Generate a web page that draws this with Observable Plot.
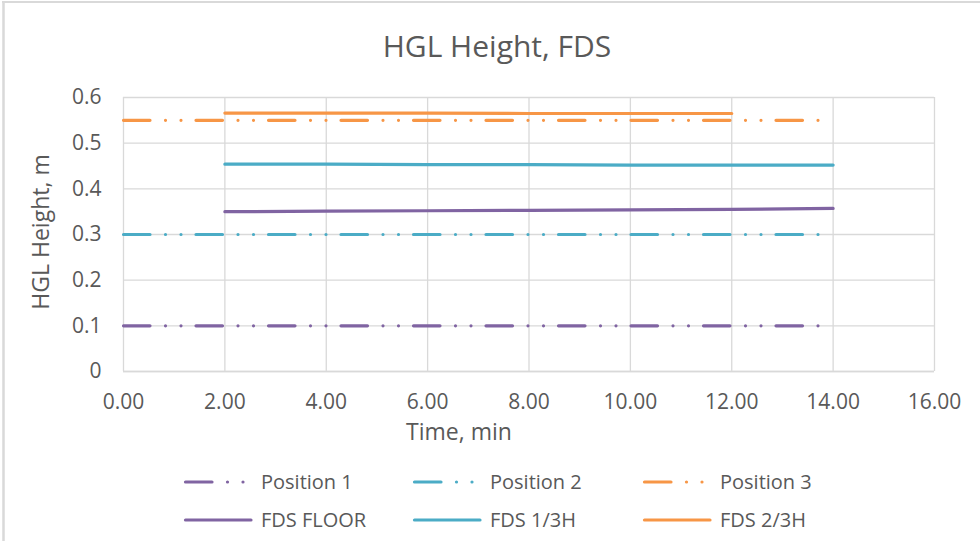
<!DOCTYPE html>
<html>
<head>
<meta charset="utf-8">
<script src="https://cdn.jsdelivr.net/npm/d3@7"></script>
<script src="https://cdn.jsdelivr.net/npm/@observablehq/plot@0.6"></script>
<style>
  html, body { margin: 0; padding: 0; background: #ffffff; }
  #chart { width: 980px; height: 541px; }
</style>
</head>
<body>
<div id="chart"></div>
<script>
// Reference positions (constant heights over the run)
const positionTimes = [0, 14];
const position1 = [0.1, 0.1];
const position2 = [0.3, 0.3];
const position3 = [0.55, 0.55];

// FDS hot gas layer heights, sampled every 2 minutes
const fdsTimes = [2, 4, 6, 8, 10, 12, 14];
const fdsFloor = [0.350, 0.351, 0.352, 0.353, 0.354, 0.355, 0.357];
const fdsOneThird = [0.454, 0.454, 0.453, 0.453, 0.452, 0.452, 0.452];
const fdsTwoThirdTimes = [2, 4, 6, 8, 10, 12];
const fdsTwoThird = [0.566, 0.566, 0.566, 0.565, 0.565, 0.565];

// Axis ticks
const xTicks = [0, 2, 4, 6, 8, 10, 12, 14, 16];
const yTicks = [0, 0.1, 0.2, 0.3, 0.4, 0.5, 0.6];

// Series in drawing order
const seriesNames = ["Position 1", "Position 2", "Position 3", "FDS FLOOR", "FDS 1/3H", "FDS 2/3H"];
const seriesColors = ["#8064A2", "#4BACC6", "#F79646", "#8064A2", "#4BACC6", "#F79646"];
const seriesDashed = [true, true, true, false, false, false];

const dashDot = "26.5,15.5,0,15.5,0,15";
const textColor = "#595959";
const gridColor = "#D9D9D9";

const toRows = (xs, ys, name) => xs.map((x, i) => ({time: x, height: ys[i], series: name}));
const seriesData = [
  toRows(positionTimes, position1, seriesNames[0]),
  toRows(positionTimes, position2, seriesNames[1]),
  toRows(positionTimes, position3, seriesNames[2]),
  toRows(fdsTimes, fdsFloor, seriesNames[3]),
  toRows(fdsTimes, fdsOneThird, seriesNames[4]),
  toRows(fdsTwoThirdTimes, fdsTwoThird, seriesNames[5])
];

const lineMarks = seriesData.map((rows, i) => Plot.line(rows, {
  x: "time",
  y: "height",
  stroke: seriesColors[i],
  strokeWidth: 3.2,
  strokeLinecap: "round",
  strokeDasharray: seriesDashed[i] ? dashDot : null
}));

const chart = Plot.plot({
  width: 980,
  height: 541,
  marginTop: 97,
  marginRight: 46,
  marginBottom: 170,
  marginLeft: 123,
  style: {fontFamily: "'Open Sans', sans-serif", fontSize: "21px", color: textColor, background: "#ffffff", overflow: "visible"},
  x: {domain: [0, 16], ticks: xTicks, label: null},
  y: {domain: [0, 0.6], ticks: yTicks, label: null},
  marks: [
    Plot.gridX(xTicks, {stroke: gridColor, strokeOpacity: 1, strokeWidth: 1.3}),
    Plot.gridY(yTicks, {stroke: gridColor, strokeOpacity: 1, strokeWidth: 1.3}),
    Plot.ruleY([0], {stroke: gridColor, strokeWidth: 1.5}),
    Plot.axisX(xTicks, {tickSize: 0, tickPadding: 23, tickFormat: d3.format(".2f"), label: null}),
    Plot.axisY(yTicks, {tickSize: 0, tickPadding: 22, tickFormat: d => d === 0 ? "0" : d3.format(".1f")(d), label: null}),
    ...lineMarks
  ]
});

document.getElementById("chart").appendChild(chart);

// Chart border, titles and legend drawn into the same SVG
const svg = d3.select(chart);
const deco = svg.append("g")
  .attr("font-family", "'Open Sans', sans-serif")
  .attr("fill", textColor)
  .attr("text-anchor", "start");

deco.append("line").attr("x1", 2).attr("x2", 980).attr("y1", 2).attr("y2", 2)
  .attr("stroke", gridColor).attr("stroke-width", 2);
deco.append("line").attr("x1", 3.5).attr("x2", 3.5).attr("y1", 1).attr("y2", 541)
  .attr("stroke", gridColor).attr("stroke-width", 2.5);

deco.append("text").attr("x", 497).attr("y", 57).attr("text-anchor", "middle")
  .attr("font-size", 30).text("HGL Height, FDS");

deco.append("text").attr("x", 459).attr("y", 440).attr("text-anchor", "middle")
  .attr("font-size", 23).text("Time, min");

deco.append("text").attr("transform", "translate(49,232) rotate(-90)").attr("text-anchor", "middle")
  .attr("font-size", 23).text("HGL Height, m");

// Legend: three columns, dashed series on the first row, FDS on the second
const legendCols = [184, 413, 643];
const legendRows = [482, 520];
const legend = deco.append("g");
seriesNames.forEach((name, i) => {
  const col = i % 3, row = Math.floor(i / 3);
  const x0 = legendCols[col], y0 = legendRows[row];
  legend.append("line")
    .attr("x1", x0 + 1.5).attr("x2", x0 + 67).attr("y1", y0).attr("y2", y0)
    .attr("stroke", seriesColors[i]).attr("stroke-width", 3.2)
    .attr("stroke-linecap", "round")
    .attr("stroke-dasharray", seriesDashed[i] ? dashDot : null);
  legend.append("text")
    .attr("x", x0 + 77).attr("y", y0 + 7.3)
    .attr("text-anchor", "start")
    .attr("font-size", 20).text(name);
});
</script>
</body>
</html>
